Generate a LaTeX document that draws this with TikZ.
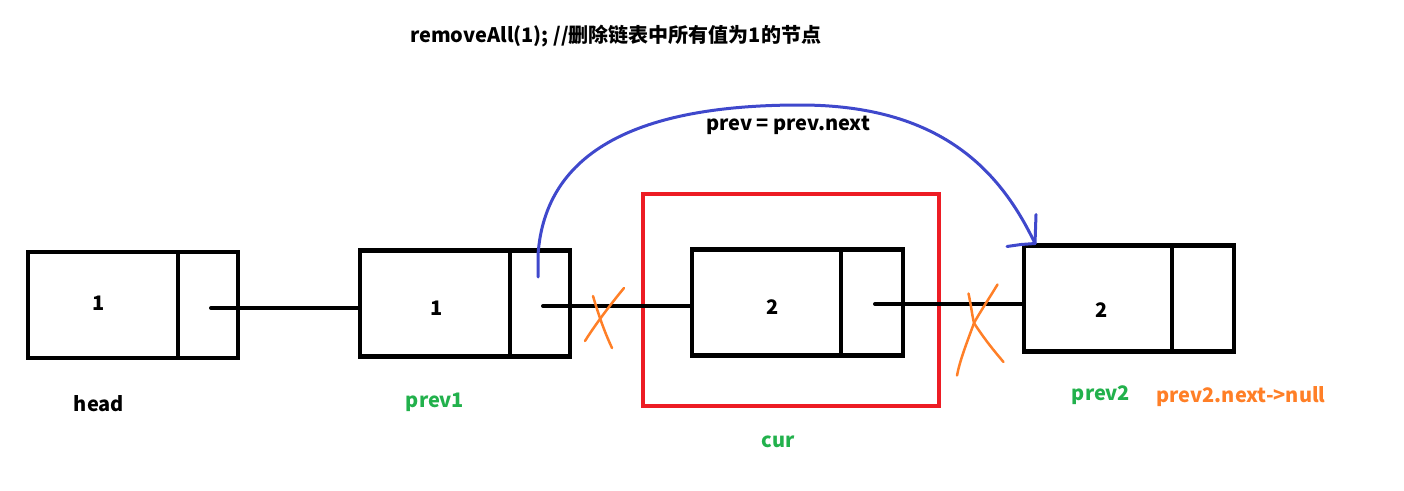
\documentclass[tikz,border=0pt]{standalone}
\usepackage{fontspec}
\setmainfont{Noto Sans CJK SC}
\usetikzlibrary{calc}
\definecolor{mygreen}{HTML}{22B14C}
\definecolor{myorange}{HTML}{FF7F27}
\definecolor{myred}{HTML}{ED1C24}
\definecolor{myblue}{HTML}{3F48CC}
\tikzset{
  cell/.style={draw=black, line width=4.5pt, rectangle, inner sep=0pt, outer sep=0pt, minimum height=106pt},
  link/.style={draw=black, line width=4pt, line cap=round},
  txt/.style={font=\fontsize{20}{24}\selectfont\bfseries, inner sep=0pt},
  cross/.style={draw=myorange, line width=2.5pt, line cap=round, line join=round},
  bluepen/.style={draw=myblue, line width=3pt, line cap=round, line join=round},
}
\begin{document}
\begin{tikzpicture}[x=1pt,y=-1pt]
\useasboundingbox (0,0) rectangle (1404,490);
% title
\node[txt, anchor=west] (title) at (410,36) {removeAll(1); //删除链表中所有值为1的节点};
% red box around cur
\node[draw=myred, line width=4pt, rectangle, inner sep=0pt, outer sep=0pt, minimum width=296pt, minimum height=212pt] (curbox) at (791,300) {};
% list nodes
\node[cell, minimum width=150pt] (hdata) at (103,305) {};
\node[cell, minimum width=60pt] (hptr) at (208,305) {};
\node[cell, minimum width=150pt] (p1data) at (435,303.5) {};
\node[cell, minimum width=60pt] (p1ptr) at (540,303.5) {};
\node[cell, minimum width=149pt] (cdata) at (766.5,302.5) {};
\node[cell, minimum width=62pt] (cptr) at (872,302.5) {};
\node[cell, minimum width=148pt] (p2data) at (1098,298.5) {};
\node[cell, minimum width=62pt] (p2ptr) at (1203,298.5) {};
% values
\node[txt] (v1) at (99,303) {1};
\node[txt] (v2) at (437,308) {1};
\node[txt] (v3) at (773,307) {2};
\node[txt] (v4) at (1102,310) {2};
% links
\draw[link] ($(hptr.center)+(3,3)$) -- ($(p1data.west)+(-2,4.5)$);
\draw[link] ($(p1ptr.center)+(3,2.5)$) -- ($(cdata.west)+(-2,3.5)$);
\draw[link] ($(cptr.center)+(3,1.5)$) -- ($(p2data.west)+(-2,5.5)$);
% orange crosses
\draw[cross] (593,296) .. controls (600,320) and (606,335) .. (612,348);
\draw[cross] (624,288) .. controls (610,305) and (595,325) .. (585,341);
\draw[cross] (968.5,293.5) .. controls (971,305) and (972,315) .. (974,323) .. controls (985,340) and (995,352) .. (1003.5,362);
\draw[cross] (997.5,284.5) .. controls (990,297) and (980,312) .. (974,323) .. controls (966,345) and (960,360) .. (957,375.5);
% blue arc
\coordinate (arcstart) at ($(p1ptr.center)+(-2,-26.5)$);
\coordinate (tip) at ($(p2data.north west)+(11,-2)$);
\draw[bluepen] (arcstart) -- ++(0,-22) .. controls (545,150) and (640,105) .. (800,105) .. controls (940,105) and (1000,170) .. (tip);
\draw[bluepen] (tip) -- ++(1,-29);
\draw[bluepen] (tip) -- ++(-14,1) -- ++(-14,2);
% labels
\node[txt] (lhead) at (99,404) {head};
\node[txt, text=mygreen] (lprev1) at (435,402) {prev1};
\node[txt, text=mygreen] (lcur) at (778,442) {cur};
\node[txt, text=mygreen] (lprev2) at (1101,395) {prev2};
\node[txt, text=myorange] (lnull) at (1241,397) {prev2.next->null};
\node[txt] (arclabel) at (788,125) {prev = prev.next};
\end{tikzpicture}
\end{document}
